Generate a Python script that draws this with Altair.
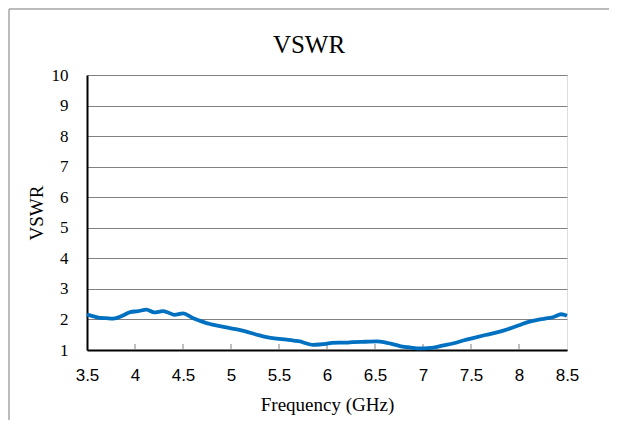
import altair as alt
import pandas as pd

freq = [3.5, 3.57, 3.635, 3.7, 3.77, 3.82, 3.88, 3.95, 4.03, 4.12, 4.2, 4.29, 4.35, 4.41, 4.5,
        4.6, 4.7, 4.78, 4.87, 4.95, 5.05, 5.16, 5.27, 5.37, 5.48, 5.58, 5.65, 5.72, 5.78, 5.85,
        5.92, 5.99, 6.05, 6.13, 6.2, 6.27, 6.4, 6.52, 6.59, 6.67, 6.76, 6.87, 6.97, 7.05, 7.11,
        7.2, 7.32, 7.42, 7.52, 7.65, 7.8, 7.9, 8.01, 8.1, 8.22, 8.3, 8.36, 8.44, 8.5]
vswr = [2.16, 2.10, 2.05, 2.04, 2.03, 2.06, 2.14, 2.24, 2.27, 2.32, 2.23, 2.27, 2.22, 2.15, 2.20,
        2.05, 1.93, 1.85, 1.79, 1.74, 1.68, 1.60, 1.50, 1.42, 1.37, 1.34, 1.31, 1.28, 1.22, 1.17,
        1.18, 1.20, 1.23, 1.24, 1.24, 1.26, 1.27, 1.28, 1.26, 1.20, 1.13, 1.08, 1.05, 1.06, 1.08,
        1.14, 1.22, 1.31, 1.39, 1.49, 1.60, 1.70, 1.82, 1.92, 2.00, 2.04, 2.08, 2.17, 2.12]
x_ticks = [3.5, 4, 4.5, 5, 5.5, 6, 6.5, 7, 7.5, 8, 8.5]
y_ticks = [1, 2, 3, 4, 5, 6, 7, 8, 9, 10]
title_text = ["VSWR"]

W, H = 480, 275
PAD_L, PAD_T, PAD_R, PAD_B = 79, 67, 42, 70

df = pd.DataFrame({"f": freq, "v": vswr})
tick_df = pd.DataFrame({"t": x_ticks[1:-1]})
frame_df = pd.DataFrame({"a": [0]})
title_df = pd.DataFrame({"label": title_text})

serif = "Liberation Serif, Times New Roman, serif"
sans = "Liberation Sans, Arial, sans-serif"

xscale = alt.Scale(domain=[3.5, 8.5], nice=False, zero=False)
yscale = alt.Scale(domain=[1, 10], nice=False, zero=False)

line = alt.Chart(df).mark_line(color="#0070C0", strokeWidth=3.8, interpolate="monotone").encode(
    x=alt.X("f:Q", scale=xscale,
            axis=alt.Axis(values=x_ticks, format="~g", title="Frequency (GHz)", grid=False, ticks=False,
                          domainColor="#000000", domainWidth=2,
                          labelFont=sans, labelFontSize=17, labelColor="#000000",
                          labelPadding=17, labelFlush=False,
                          titleFont=serif, titleFontSize=19, titleFontWeight="normal",
                          titleColor="#000000", titleBaseline="alphabetic", titleY=60)),
    y=alt.Y("v:Q", scale=yscale,
            axis=alt.Axis(values=y_ticks, title="VSWR", grid=True, gridColor="#808080",
                          gridWidth=1, ticks=False, domainColor="#000000", domainWidth=2,
                          labelFont=serif, labelFontSize=17, labelColor="#000000",
                          labelPadding=19, labelFlush=False,
                          titleFont=serif, titleFontSize=19, titleFontWeight="normal",
                          titleColor="#000000", titleBaseline="alphabetic",
                          titleX=-45, titleY=H / 2)),
)

inner_ticks = alt.Chart(tick_df).mark_rule(color="#808080", strokeWidth=1).encode(
    x=alt.X("t:Q", scale=xscale),
    y=alt.value(H),
    y2=alt.value(H - 6),
)

frame_top = alt.Chart(frame_df).mark_rule(color="#a6a6a6", strokeWidth=1.5, clip=False).encode(
    x=alt.value(-PAD_L + 1),
    x2=alt.value(W + PAD_R),
    y=alt.value(-PAD_T + 1),
)
frame_left = alt.Chart(frame_df).mark_rule(color="#a6a6a6", strokeWidth=1.5, clip=False).encode(
    x=alt.value(-PAD_L + 1),
    y=alt.value(-PAD_T + 1),
    y2=alt.value(H + PAD_B),
)
edge_mask = alt.Chart(frame_df).mark_rule(color="#ffffff", strokeWidth=4, clip=False).encode(
    x=alt.value(W + PAD_R - 1),
    y=alt.value(-PAD_T + 3),
    y2=alt.value(H + PAD_B),
)

title = alt.Chart(title_df).mark_text(font=serif, fontSize=25, color="#000000",
                                      baseline="alphabetic", align="center").encode(
    text="label:N",
    x=alt.value(309 - 8 - PAD_L),
    y=alt.value(53 - 8 - PAD_T),
)

chart = alt.layer(frame_top, frame_left, edge_mask, inner_ticks, line, title).properties(
    width=W, height=H,
    padding={"left": PAD_L, "top": PAD_T, "right": PAD_R, "bottom": PAD_B},
    autosize=alt.AutoSizeParams(type="none"),
).configure_view(stroke="#8c8c8c", strokeWidth=2).configure(background="#ffffff")

chart.save("out.html", embed_options={"renderer": "svg", "actions": False})
